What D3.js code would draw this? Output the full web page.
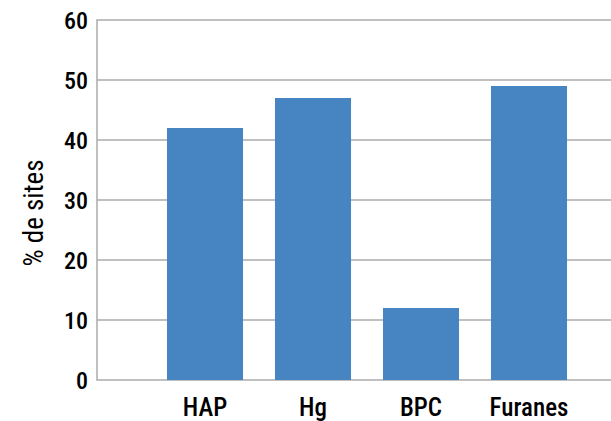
<!DOCTYPE html>
<html><head><meta charset="utf-8">
<script src="https://cdn.jsdelivr.net/npm/d3@7"></script>
<style>
body{margin:0;background:#fff;}
text{font-family:"Roboto Condensed",Roboto,sans-serif;}
</style></head>
<body><svg id="c" width="611" height="421"></svg>
<script>
const categories = ["HAP","Hg","BPC","Furanes"];
const values = [42,47,12,49];
const yTicks = [0,10,20,30,40,50,60];
const yTitle = "% de sites";

const svg = d3.select("#c");
const x0 = 97, xEnd = 611, yTop = 20, yBot = 380;
const y = d3.scaleLinear().domain([0,60]).range([yBot,yTop]);
const x = d3.scaleBand().domain(categories).range([151,583]).paddingInner(0.296).paddingOuter(0.148);

// gridlines
svg.append("g").selectAll("line").data(yTicks).join("line")
  .attr("x1",x0).attr("x2",xEnd)
  .attr("y1",d=>y(d)).attr("y2",d=>y(d))
  .attr("stroke","#ababab").attr("stroke-width",1.5);

// y axis line
svg.append("line").attr("x1",x0).attr("x2",x0).attr("y1",y(60)-0.75).attr("y2",y(0)+0.75)
  .attr("stroke","#ababab").attr("stroke-width",1.5);

// bars
svg.append("g").selectAll("rect").data(values).join("rect")
  .attr("x",(d,i)=>x(categories[i]))
  .attr("width",x.bandwidth())
  .attr("y",d=>y(d))
  .attr("height",d=>y(0)-y(d))
  .attr("fill","#4684c2");

// y tick labels
svg.append("g").selectAll("text").data(yTicks).join("text")
  .attr("x",88).attr("y",d=>y(d))
  .attr("dy","0.37em")
  .attr("text-anchor","end")
  .attr("font-size",24).attr("font-weight",500).attr("fill","#000")
  .text(d=>d);

// x labels
svg.append("g").selectAll("text").data(categories).join("text")
  .attr("x",d=>x(d)+x.bandwidth()/2).attr("y",416)
  .attr("text-anchor","middle")
  .attr("font-size",25).attr("font-weight",500).attr("fill","#000")
  .text(d=>d);

// y title
svg.append("text")
  .attr("transform","translate(43,213) rotate(-90)")
  .attr("text-anchor","middle")
  .attr("font-size",27).attr("font-weight",400).attr("fill","#000")
  .text(yTitle);
</script></body></html>
